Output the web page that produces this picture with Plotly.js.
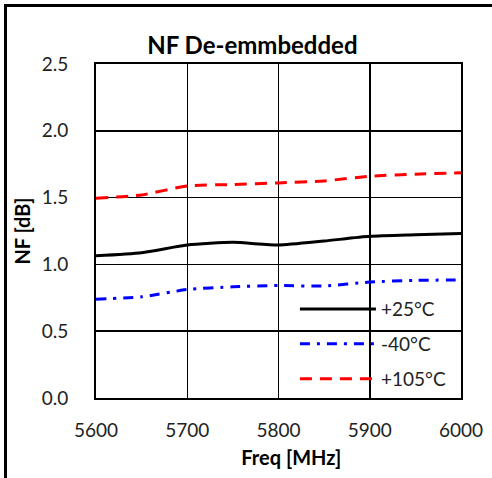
<!DOCTYPE html>
<html>
<head>
<meta charset="utf-8">
<script src="https://cdn.plot.ly/plotly-3.0.1.min.js"></script>
<style>
html,body{margin:0;padding:0;background:#fff;}
#wrap{position:relative;width:492px;height:478px;overflow:hidden;}
#chart{position:absolute;left:0;top:0;width:492px;height:478px;}
#frame{position:absolute;left:4px;top:4px;width:500px;height:500px;border-top:3px solid #000;border-left:3px solid #000;pointer-events:none;}
</style>
</head>
<body>
<div id="wrap"><div id="chart"></div><div id="frame"></div></div>
<script>
const freq = [5600, 5650, 5700, 5750, 5800, 5850, 5900, 5950, 6000];
const nf25 = [1.065, 1.088, 1.145, 1.165, 1.145, 1.175, 1.21, 1.222, 1.232];
const nfm40 = [0.74, 0.757, 0.812, 0.832, 0.842, 0.838, 0.868, 0.88, 0.884];
const nf105 = [1.495, 1.52, 1.587, 1.598, 1.61, 1.625, 1.66, 1.675, 1.686];
const seriesNames = ["+25°C", "-40°C", "+105°C"];
const xTicks = [5600, 5700, 5800, 5900, 6000];
const yTicks = [0.0, 0.5, 1.0, 1.5, 2.0, 2.5];

const FONT = "Lato, 'Liberation Sans', sans-serif";
const traces = [
  {x: freq, y: nf25, name: seriesNames[0], mode: "lines", legend: "legend",
   line: {color: "#000000", width: 3, shape: "spline", smoothing: 0.6}},
  {x: freq, y: nfm40, name: seriesNames[1], mode: "lines", legend: "legend2",
   line: {color: "#0000ff", width: 3, dash: "10px,7px,3px,7px", shape: "spline", smoothing: 0.6}},
  {x: freq, y: nf105, name: seriesNames[2], mode: "lines", legend: "legend3",
   line: {color: "#ff0000", width: 3, dash: "12px,8px", shape: "spline", smoothing: 0.6}}
];

const legBase = {x: 0.545, xanchor: "left", yanchor: "middle", bgcolor: "rgba(0,0,0,0)",
  borderwidth: 0, itemwidth: 76, font: {family: FONT, size: 19, color: "#222"}};

const layout = {
  width: 492, height: 478,
  margin: {l: 96, r: 31, t: 64, b: 80},
  paper_bgcolor: "#ffffff", plot_bgcolor: "#ffffff",
  font: {family: FONT, color: "#222"},
  title: {text: "<b>NF De-emmbedded</b>", font: {family: FONT, size: 24, color: "#000"},
          x: 0.513, xref: "container", xanchor: "center", y: 0.905, yref: "container", yanchor: "middle"},
  xaxis: {range: [5600, 6000], tickvals: xTicks, ticktext: xTicks.map(String),
          showgrid: true, gridcolor: "#000", gridwidth: 1.5, zeroline: false,
          showline: true, linecolor: "#000", linewidth: 2, mirror: true, ticks: "",
          ticklabelstandoff: 14,
          tickfont: {family: FONT, size: 19, color: "#222"},
          title: {text: "&nbsp;&nbsp;&nbsp;&nbsp;&nbsp;<b>Freq [MHz]</b>", font: {family: FONT, size: 20, color: "#000"}, standoff: 11}},
  yaxis: {range: [0, 2.5], tickvals: yTicks, ticktext: yTicks.map(v => v.toFixed(1)),
          showgrid: true, gridcolor: "#000", gridwidth: 1.5, zeroline: false,
          showline: true, linecolor: "#000", linewidth: 2, mirror: true, ticks: "",
          ticklabelstandoff: 22,
          tickfont: {family: FONT, size: 19, color: "#222"},
          title: {text: "<b>NF [dB]</b>", font: {family: FONT, size: 20, color: "#000"}, standoff: 6}},
  showlegend: true,
  legend: Object.assign({}, legBase, {y: 0.266}),
  legend2: Object.assign({}, legBase, {y: 0.162}),
  legend3: Object.assign({}, legBase, {y: 0.057}),
  shapes: [{type: "rect", xref: "paper", yref: "paper", x0: 0.53, x1: 0.985, y0: 0.005, y1: 0.314,
            fillcolor: "#ffffff", line: {width: 0}, layer: "between"}]
};

Plotly.newPlot("chart", traces, layout, {displayModeBar: false, staticPlot: true});
</script>
</body>
</html>
